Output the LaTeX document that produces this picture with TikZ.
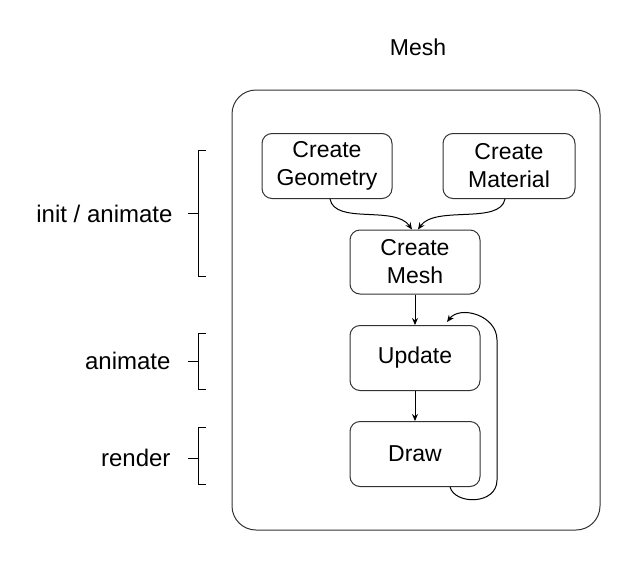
\documentclass[tikz,border=0pt]{standalone}
\usepackage{fontspec}
\setmainfont{Liberation Sans}
\usetikzlibrary{arrows.meta}
\begin{document}
\begin{tikzpicture}[x=1pt,y=-1pt,
  box/.style={draw=black!80,line width=1pt,rounded corners=10pt,align=center,font=\fontsize{23}{28}\selectfont,inner sep=0pt},
  lab/.style={font=\fontsize{24}{28}\selectfont,anchor=east},
  arr/.style={-{Stealth[length=7pt,width=6pt]},line width=1pt}]
\useasboundingbox (0,0) rectangle (640,560);
\node[font=\fontsize{23}{28}\selectfont] (title) at (418,47) {Mesh};
\node[draw=black!80,line width=1pt,rounded corners=24pt,minimum width=368pt,minimum height=440pt] (outer) at (416,310) {};
\node[box,minimum width=130pt,minimum height=65pt] (geo) at (327,166) {Create\\Geometry};
\node[box,minimum width=132pt,minimum height=65pt] (mat) at (509,166) {Create\\Material};
\node[box,minimum width=130pt,minimum height=64pt] (mesh) at (415,262) {Create\\Mesh};
\node[box,minimum width=130pt,minimum height=65pt] (upd) at (415,358) {Update};
\node[box,minimum width=130pt,minimum height=65pt] (drw) at (415,454) {Draw};
\coordinate (g1) at (330,199);
\coordinate (m1) at (505,199);
\draw[arr] (g1) .. controls (335,225) and (395,205) .. ([xshift=-3pt]mesh.north);
\draw[arr] (m1) .. controls (500,225) and (435,205) .. ([xshift=3pt]mesh.north);
\draw[arr] (mesh) -- (upd);
\draw[arr] (upd) -- (drw);
\coordinate (l0) at (450,487);
\coordinate (l1) at (447,322);
\draw[arr] (l0) .. controls (455,505) and (497,505) .. (497,480) -- (497,340) .. controls (497,315) and (460,305) .. (l1);
\node[lab] (t1) at (176,214) {init / animate};
\node[lab] (t2) at (174,361) {animate};
\node[lab] (t3) at (174,458) {render};
\draw[line width=0.9pt] (206,150) -- (198,150) -- (198,276) -- (206,276) (198,213) -- (188,213);
\draw[line width=0.9pt] (206,333) -- (198,333) -- (198,389) -- (206,389) (198,361) -- (188,361);
\draw[line width=0.9pt] (206,427) -- (198,427) -- (198,484) -- (206,484) (198,458) -- (188,458);
\end{tikzpicture}
\end{document}
